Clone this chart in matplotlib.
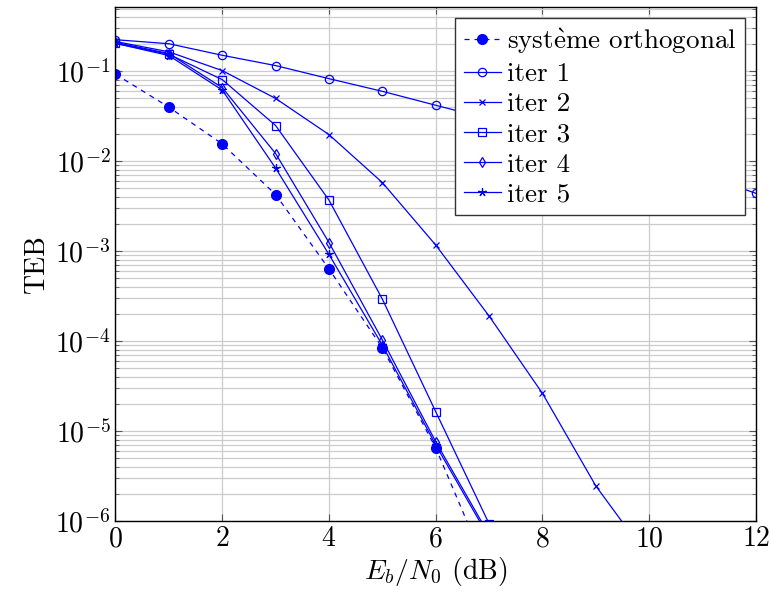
import numpy as np
import matplotlib
matplotlib.use("Agg")
import matplotlib.pyplot as plt
from matplotlib.ticker import LogLocator, NullFormatter, MultipleLocator

plt.rcParams["font.family"] = ["cmr10", "DejaVu Serif"]
plt.rcParams["mathtext.fontset"] = "cm"
plt.rcParams["axes.formatter.use_mathtext"] = True

# Eb/N0 (dB)
ebn0 = [0, 1, 2, 3, 4, 5, 6, 7, 8, 9, 10, 11, 12]

# TEB values (points below 1e-6 are clipped by the axis)
teb_ortho = [0.093, 0.040, 0.0156, 0.00427, 6.35e-4, 8.4e-5, 6.5e-6, 2.6e-7]
teb_iter1 = [0.225, 0.203, 0.151, 0.116, 0.083, 0.060, 0.042, 0.0295, 0.021,
             0.0145, 0.0100, 0.0071, 0.0044]
teb_iter2 = [0.215, 0.165, 0.102, 0.050, 0.0198, 0.0058, 0.00117, 1.9e-4,
             2.62e-5, 2.45e-6, 3.8e-7]
teb_iter3 = [0.205, 0.155, 0.081, 0.025, 0.0037, 2.93e-4, 1.64e-5, 9.3e-7]
teb_iter4 = [0.21, 0.158, 0.066, 0.0122, 1.25e-3, 1.03e-4, 7.6e-6, 7.0e-7]
teb_iter5 = [0.205, 0.15, 0.062, 0.0084, 9.2e-4, 9.0e-5, 7.0e-6, 6.5e-7]

# "système orthogonal" - the è goes through mathtext so it stays in Computer Modern
labels = [r"syst$\mathrm{\grave{e}}$me orthogonal", "iter 1", "iter 2",
          "iter 3", "iter 4", "iter 5"]

blue = "#0000ff"

fig = plt.figure(figsize=(7.73, 5.98), dpi=100)
ax = fig.add_axes([0.1494, 0.1288, 0.8286, 0.8595])

ax.plot(ebn0[:len(teb_ortho)], teb_ortho, color=blue, ls=(0, (4, 4)), lw=0.9,
        marker="o", ms=7, mfc=blue, mec=blue, label=labels[0])
ax.plot(ebn0[:len(teb_iter1)], teb_iter1, color=blue, lw=0.9,
        marker="o", ms=6, mfc="none", mec=blue, mew=0.9, label=labels[1])
ax.plot(ebn0[:len(teb_iter2)], teb_iter2, color=blue, lw=0.9,
        marker="x", ms=5, mec=blue, mew=0.9, label=labels[2])
ax.plot(ebn0[:len(teb_iter3)], teb_iter3, color=blue, lw=0.9,
        marker="s", ms=6, mfc="none", mec=blue, mew=0.9, label=labels[3])
ax.plot(ebn0[:len(teb_iter4)], teb_iter4, color=blue, lw=0.9,
        marker="d", ms=5.5, mfc="none", mec=blue, mew=0.9, label=labels[4])
ax.plot(ebn0[:len(teb_iter5)], teb_iter5, color=blue, lw=0.9,
        marker=(5, 2, 0), ms=6, mec=blue, mew=0.9, label=labels[5])

ax.set_yscale("log")
ax.set_xlim(0, 12)
ax.set_ylim(1e-6, 0.52)
ax.xaxis.set_major_locator(MultipleLocator(2))
ax.yaxis.set_major_locator(LogLocator(base=10, numticks=20))
ax.yaxis.set_minor_locator(LogLocator(base=10, subs=np.arange(2, 10), numticks=20))
ax.yaxis.set_minor_formatter(NullFormatter())

ax.grid(True, which="major", color="#cccccc", lw=0.9)
ax.grid(True, which="minor", axis="y", color="#cccccc", lw=0.9)
ax.set_axisbelow(True)
ax.tick_params(which="both", direction="in", top=True, right=True,
               labelsize=20, color="#555555")
ax.tick_params(which="major", length=5)
ax.tick_params(which="minor", length=3)
for s in ax.spines.values():
    s.set_linewidth(1.0)

ax.set_xlabel(r"$E_b/N_0$ (dB)", fontsize=20, labelpad=2)
ax.set_ylabel("TEB", fontsize=20, labelpad=4)

leg = ax.legend(loc="upper right", fontsize=19.5, frameon=True, fancybox=False,
                edgecolor="#333333", framealpha=1, handlelength=1.4,
                handletextpad=0.2, borderpad=0.3, labelspacing=0.23,
                borderaxespad=0.42)
leg.get_frame().set_linewidth(1.0)

fig.savefig("out.png", dpi=100)
